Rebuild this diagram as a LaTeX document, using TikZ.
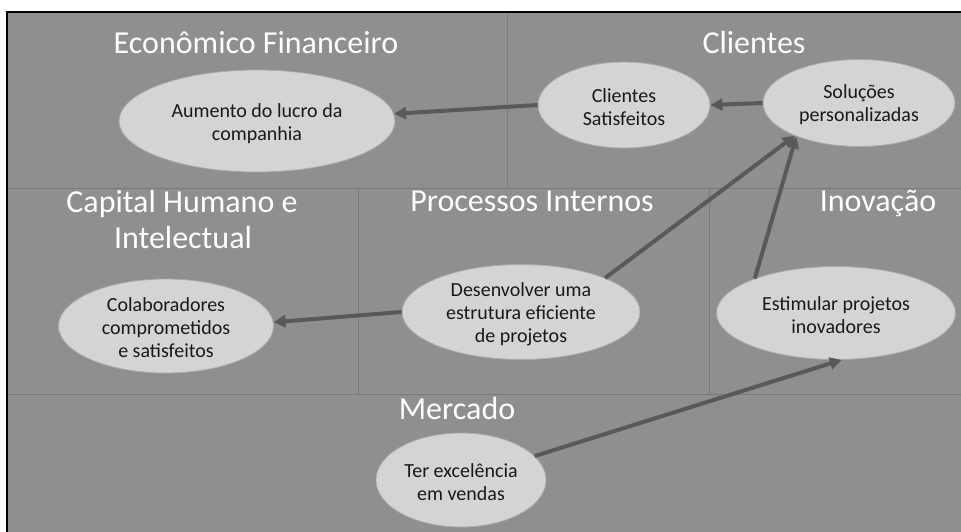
\documentclass[tikz,border=0pt]{standalone}
\usepackage{fontspec}
\setmainfont{Carlito}
\usetikzlibrary{shapes.geometric,arrows.meta}
\definecolor{bggray}{HTML}{8F8F8F}
\definecolor{gridgray}{HTML}{7A7A7A}
\definecolor{ovalfill}{HTML}{D4D4D4}
\definecolor{ovaledge}{HTML}{AAAAAA}
\definecolor{arrowgray}{HTML}{595959}
\tikzset{
  oval/.style={ellipse, fill=ovalfill, draw=ovaledge, line width=0.8pt, inner sep=0pt},
  otext/.style={align=center, text=black!90, font=\fontsize{20}{23}\selectfont, inner sep=0pt},
  heading/.style={anchor=base, text=white, font=\fontsize{32}{36}\selectfont, inner sep=0pt, align=center},
  gridline/.style={draw=gridgray, line width=1pt},
  link/.style={draw=arrowgray, line width=4pt, -{Triangle[length=12pt,width=12pt]}}
}
\begin{document}
\begin{tikzpicture}[x=1pt,y=-1pt]
\useasboundingbox (0,0) rectangle (961,532);
\fill[bggray] (7,12) rectangle (961,532);
% grid
\draw[gridline] (8,188) -- (961,188);
\draw[gridline] (507,13) -- (507,188);
\draw[gridline] (8,394) -- (961,394);
\draw[gridline] (358,188) -- (358,394);
\draw[gridline] (709,188) -- (709,394);
% frame
\draw[black, line width=2pt] (7,532) -- (7,12) -- (961,12);
% headings
\node[heading] (h1) at (256,54) {Econômico Financeiro};
\node[heading] (h2) at (754,54) {Clientes};
\node[heading] (h3) at (182,212) {Capital Humano e};
\node[heading] (h3b) at (183,248) {Intelectual};
\node[heading] (h4) at (532,211) {Processos Internos};
\node[heading] (h5) at (878,211) {Inovação};
\node[heading] (h6) at (457,419) {Mercado};
% ovals
\node[oval, minimum width=276pt, minimum height=102pt] (aum) at (257,121) {};
\node[oval, minimum width=172pt, minimum height=86pt] (cs) at (624,105) {};
\node[oval, minimum width=192pt, minimum height=87pt] (sol) at (859,103) {};
\node[oval, minimum width=215pt, minimum height=94pt] (col) at (166,326) {};
\node[oval, minimum width=238pt, minimum height=95pt] (des) at (521,312) {};
\node[oval, minimum width=239pt, minimum height=93pt] (est) at (836,313) {};
\node[oval, minimum width=170pt, minimum height=94pt] (ter) at (461,480) {};
% oval texts
\node[otext] (aumt) at (257,124) {Aumento do lucro da\\companhia};
\node[otext] (cst) at (624,107) {Clientes\\Satisfeitos};
\node[otext] (solt) at (859,105) {Soluções\\personalizadas};
\node[otext] (colt) at (166,328) {Colaboradores\\comprometidos\\e satisfeitos};
\node[otext] (dest) at (521,314) {Desenvolver uma\\estrutura eficiente\\de projetos};
\node[otext] (estt) at (836,315) {Estimular projetos\\inovadores};
\node[otext] (tert) at (461,482) {Ter excelência\\em vendas};
% links
\draw[link] (cs.west) -- (aum.3);
\draw[link] (sol.west) -- (cs.east);
\draw[link] (des.22) -- (sol.207);
\draw[link] (est.157) -- (sol.208);
\draw[link] (des.west) -- (col.2);
\draw[link] (ter.18) -- (est.277);
\end{tikzpicture}
\end{document}
